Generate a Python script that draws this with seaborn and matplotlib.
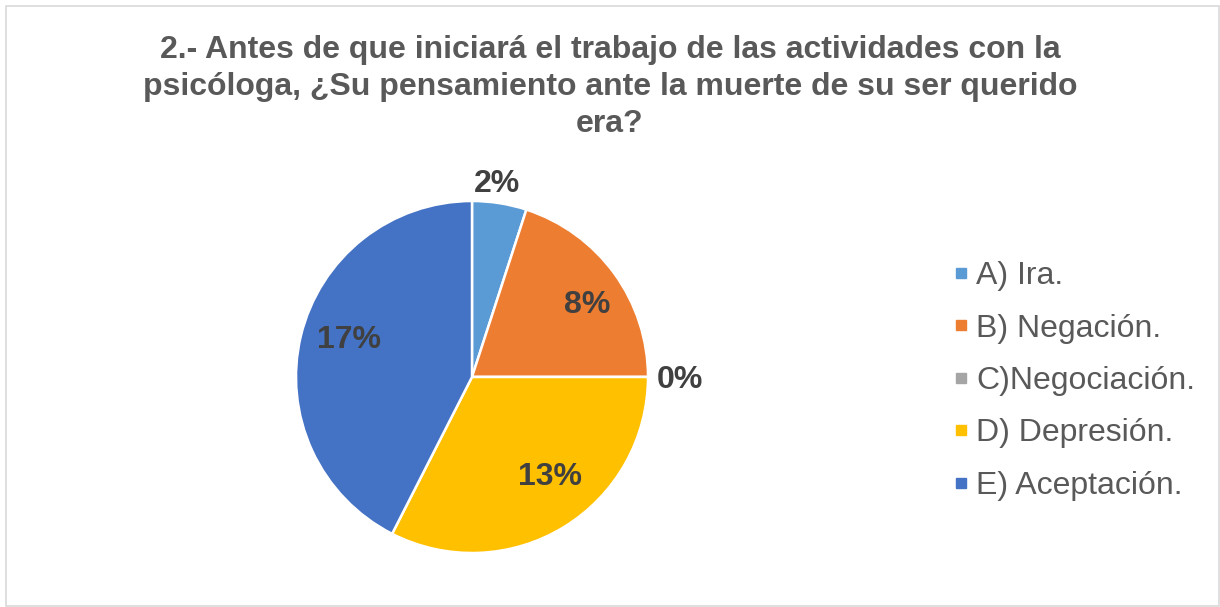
import matplotlib
matplotlib.use("Agg")
import matplotlib.pyplot as plt
from matplotlib.lines import Line2D
from matplotlib.patches import Rectangle
import numpy as np
import seaborn as sns

categories = ["A) Ira.", "B) Negación.", "C)Negociación.", "D) Depresión.", "E) Aceptación."]
values = [2, 8, 0, 13, 17]
value_labels = ["2%", "8%", "0%", "13%", "17%"]
colors = ["#5B9BD5", "#ED7D31", "#A5A5A5", "#FFC000", "#4472C4"]
title = "2.- Antes de que iniciará el trabajo de las actividades con la\npsicóloga, ¿Su pensamiento ante la muerte de su ser querido\nera?"

sns.set_theme(style="white")
plt.rcParams['font.family'] = ['Liberation Sans', 'DejaVu Sans']
palette = sns.color_palette(colors)

fig = plt.figure(figsize=(12.2, 6.07), dpi=100)
fig.patch.set_facecolor("white")
fig.add_artist(Rectangle((6/1220, 1/607), 1 - 7/1220, 1 - 7/607, transform=fig.transFigure,
                         fill=False, edgecolor="#D9D9D9", linewidth=1.2))

ax = fig.add_axes([(472 - 176) / 1220, (607 - 553) / 607, 352 / 1220, 352 / 607])
wedges, _ = ax.pie(values, colors=palette, startangle=90, counterclock=False,
                   wedgeprops=dict(edgecolor="white", linewidth=1.8))
ax.set_aspect("equal")
ax.set_xlim(-1, 1)
ax.set_ylim(-1, 1)

# label placement (radius, angle offset in degrees from wedge middle)
label_r = [1.12, 0.78, 1.18, 0.71, 0.735]
label_da = [1.7, -2.9, 0.0, 7.4, -4.5]
for w, lab, d, da in zip(wedges, value_labels, label_r, label_da):
    ang = np.deg2rad((w.theta1 + w.theta2) / 2 + da)
    ax.text(d * np.cos(ang), d * np.sin(ang) - 0.015, lab, ha="center", va="center",
            fontsize=23, fontweight="bold", color="#404040", clip_on=False)

fig.text(0.5, 1 - 87 / 607, title, ha="center", va="center", fontsize=23,
         fontweight="bold", color="#595959", linespacing=1.32)

handles = [Line2D([0], [0], marker="s", linestyle="none", markersize=7,
                  markerfacecolor=c, markeredgecolor=c) for c in palette]
leg = fig.legend(handles, categories, loc="center left",
                 bbox_to_anchor=(952 / 1220, 1 - 381 / 607), frameon=False,
                 fontsize=23, labelcolor="#595959", handlelength=0.55,
                 handletextpad=0.2, labelspacing=0.7, borderpad=0, borderaxespad=0)

fig.savefig("out.png", dpi=100)
